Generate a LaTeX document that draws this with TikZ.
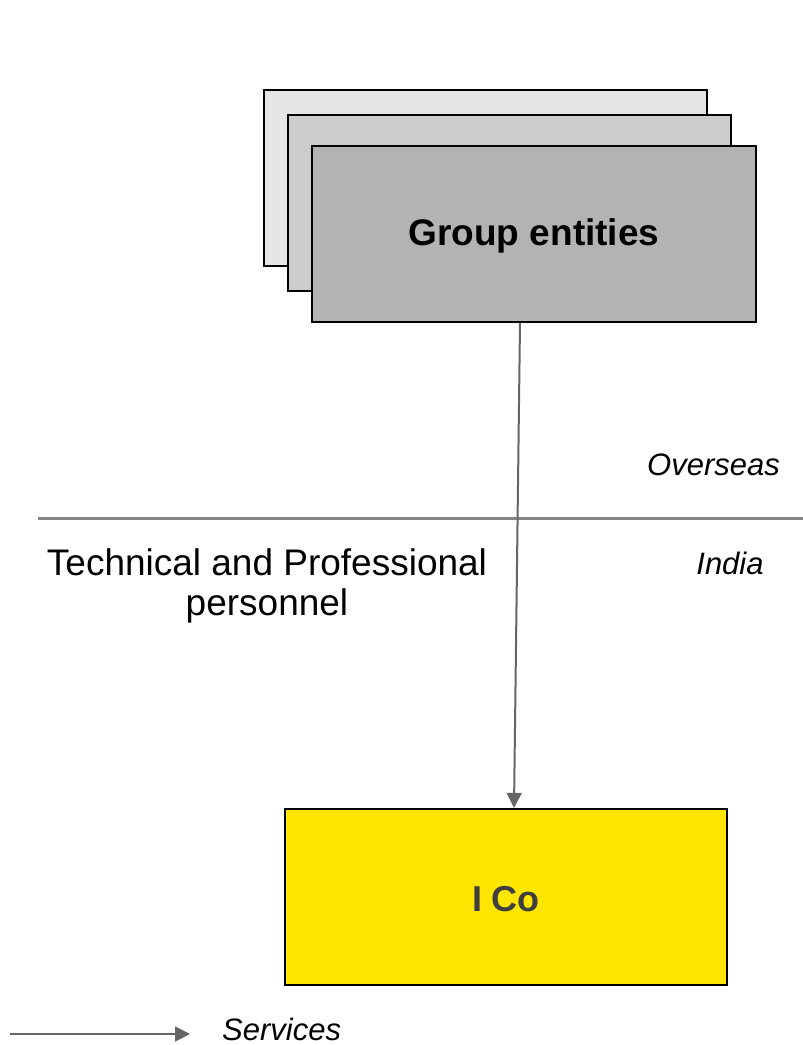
\documentclass[tikz,border=0pt]{standalone}
\usepackage{fontspec}
\setmainfont{Liberation Sans}
\usetikzlibrary{arrows.meta}
\definecolor{paleA}{HTML}{E6E6E6}
\definecolor{paleB}{HTML}{CCCCCC}
\definecolor{paleC}{HTML}{B3B3B3}
\definecolor{eyYellow}{HTML}{FFE600}
\definecolor{lineGray}{HTML}{666666}
\definecolor{rulerGray}{HTML}{858585}
\definecolor{darkText}{HTML}{3F3F3F}
\tikzset{
  entitybox/.style={draw=black, line width=2.2pt, inner sep=0pt},
  flow/.style={draw=lineGray, line width=2pt, -{Triangle[length=15pt,width=15pt]}},
  regionlabel/.style={font=\fontsize{31}{36}\selectfont\itshape, inner sep=0pt},
  bigtext/.style={font=\fontsize{37}{40}\selectfont, inner sep=0pt},
}
\begin{document}
\begin{tikzpicture}[x=1pt,y=-1pt]
\useasboundingbox (0,0) rectangle (803,1045);

% stacked group entity boxes
\node[entitybox, fill=paleA, minimum width=443pt, minimum height=176pt] (geback) at (485.5,178) {};
\node[entitybox, fill=paleB, minimum width=443pt, minimum height=176pt] (gemid) at (509.5,203) {};
\node[entitybox, fill=paleC, minimum width=444pt, minimum height=176pt] (ge) at (534,234) {};
\node[font=\fontsize{37}{42}\selectfont\bfseries, inner sep=0pt] (gelabel) at (534,236) {Group entities};

% boundary between overseas and India
\coordinate (rulestart) at (38,518);
\coordinate (ruleend) at (803,518);
\draw[rulerGray, line width=3pt] (rulestart) -- (ruleend);

\node[regionlabel, anchor=east] (overseas) at (780,465) {Overseas};
\node[regionlabel] (india) at (730,563) {India};

\node[bigtext, align=center] (personnel) at (267,586) {Technical and Professional\\personnel};

% Indian company
\node[entitybox, fill=eyYellow, minimum width=442pt, minimum height=176pt] (ico) at (506,897) {};
\node[font=\fontsize{36}{40}\selectfont\bfseries, text=darkText, inner sep=0pt] (icolabel) at (506,899) {I Co};

% services flow
\draw[flow] ([xshift=-14pt]ge.south) -- ([xshift=8pt]ico.north);

% legend
\coordinate (legstart) at (10,1034);
\coordinate (legend) at (190,1034);
\draw[flow] (legstart) -- (legend);
\node[regionlabel, anchor=west] (services) at (222,1029) {Services};
\end{tikzpicture}
\end{document}
